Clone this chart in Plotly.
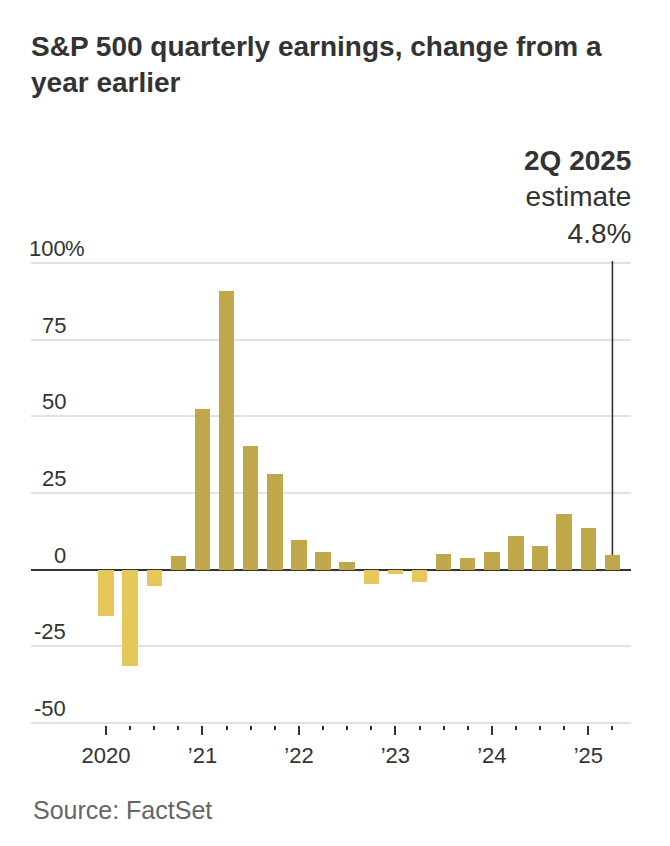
import plotly.graph_objects as go

quarters = ["1Q20", "2Q20", "3Q20", "4Q20", "1Q21", "2Q21", "3Q21", "4Q21",
            "1Q22", "2Q22", "3Q22", "4Q22", "1Q23", "2Q23", "3Q23", "4Q23",
            "1Q24", "2Q24", "3Q24", "4Q24", "1Q25", "2Q25"]
growth = [-15.0, -31.4, -5.2, 4.5, 52.5, 90.9, 40.2, 31.1,
          9.7, 5.8, 2.5, -4.6, -1.3, -3.9, 5.1, 3.8,
          5.8, 11.0, 7.7, 18.1, 13.5, 4.8]
year_labels = ["2020", "’21", "’22", "’23", "’24", "’25"]
year_positions = [0, 4, 8, 12, 16, 20]
y_ticks = [-50, -25, 0, 25, 50, 75, 100]
y_tick_labels = ["-50", "-25", "0", "25", "50", "75", "100"]

POS = "#c0a74a"
NEG = "#e6c75a"
FONT = "Liberation Sans, Arial, sans-serif"
DARK = "#333333"

W, H = 670, 846
ML, MR, MT, MB = 31, 39, 261, 121
PW = W - ML - MR
PH = H - MT - MB

x = list(range(len(quarters)))
colors = [POS if v >= 0 else NEG for v in growth]

fig = go.Figure()
fig.add_trace(go.Bar(
    x=x, y=growth, marker=dict(color=colors, line=dict(width=0)),
    width=0.64, hovertext=quarters, hoverinfo="text+y",
))

# y tick labels sitting above grid lines, right-aligned at x=68px
lab_x = (68 - ML) / PW
for v, lab in zip(y_ticks, y_tick_labels):
    fig.add_annotation(x=lab_x, xref="paper", y=v, yref="y", text=lab,
                       showarrow=False, xanchor="right", yanchor="bottom",
                       font=dict(family=FONT, size=22, color=DARK), yshift=0)
fig.add_annotation(x=lab_x, xref="paper", y=y_ticks[-1], yref="y", text="%",
                   showarrow=False, xanchor="left", yanchor="bottom",
                   font=dict(family=FONT, size=22, color=DARK), yshift=0,
                   xshift=-5)

# Estimate callout
last = len(growth) - 1
fig.add_shape(type="line", xref="x", yref="y", x0=x[last], x1=x[last],
              y0=growth[last], y1=y_ticks[-1] + 0.6,
              line=dict(color=DARK, width=1.6))
fig.add_annotation(x=1, xref="paper", y=1, yref="paper", yanchor="bottom",
                   xanchor="right", align="right", showarrow=False,
                   text="<b>2Q 2025</b><br>estimate<br>%.1f%%" % growth[last],
                   font=dict(family=FONT, size=28, color=DARK), yshift=10,
                   xshift=2)

fig.add_annotation(x=0, xref="paper", y=-(810 - (H - MB)) / PH, yref="paper",
                   yanchor="middle", xanchor="left", showarrow=False,
                   text="Source: FactSet",
                   font=dict(family=FONT, size=25, color="#666666"))

fig.update_layout(
    width=W, height=H,
    margin=dict(l=ML, r=MR, t=MT, b=MB),
    paper_bgcolor="white", plot_bgcolor="white",
    showlegend=False,
    title=dict(text="<b>S&P 500 quarterly earnings, change from a<br>year earlier</b>",
               x=ML / W, xanchor="left", y=1 - 56 / H, yanchor="top",
               font=dict(family=FONT, size=28, color=DARK)),
    bargap=0,
)
fig.update_yaxes(range=[-50.6, 100.6], tickvals=y_ticks, showticklabels=False,
                 showgrid=True, gridcolor="#e2e2e2", gridwidth=1.5,
                 zeroline=True, zerolinecolor=DARK, zerolinewidth=2,
                 showline=False, fixedrange=True)
fig.update_xaxes(range=[-3.11, 21.77], tickvals=year_positions, ticktext=year_labels,
                 ticks="outside", ticklen=9, tickwidth=1.5, tickcolor=DARK,
                 minor=dict(tickvals=x, ticks="outside", ticklen=4,
                            tickwidth=1.5, tickcolor=DARK, showgrid=False),
                 showgrid=False, zeroline=False, showline=False,
                 ticklabelstandoff=2,
                 tickfont=dict(family=FONT, size=22, color=DARK), fixedrange=True)

fig.write_html("out.html", config={"displayModeBar": False},
               post_script="document.body.style.margin='0';")
